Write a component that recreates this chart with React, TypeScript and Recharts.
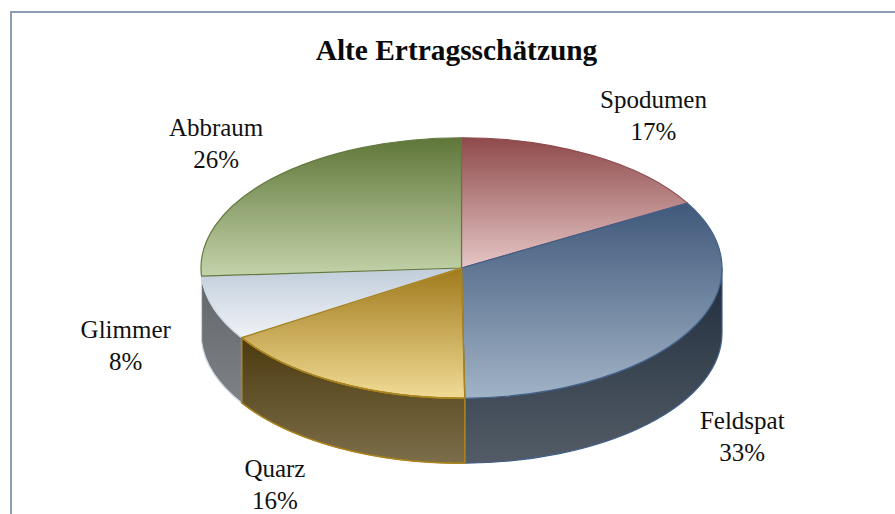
import React from "react";
import { PieChart, Pie } from "recharts";

const names = ["Spodumen", "Feldspat", "Quarz", "Glimmer", "Abbraum"];
const shares = [16.7, 33.1, 16.2, 8.0, 26.0];
const titleText = "Alte Ertragsschätzung";

const data = names.map((name, i) => ({ name, value: shares[i] }));

const faceColors: Record<string, [string, string, string]> = {
  Spodumen: ["#8f4a4b", "#e6c6c6", "#8f4a4b"],
  Feldspat: ["#40587a", "#a1b3c6", "#42608a"],
  Quarz: ["#a07a1c", "#f1db95", "#a8831f"],
  Glimmer: ["#c1cddb", "#f0f3f7", "#ccd6e2"],
  Abbraum: ["#5f7639", "#c4d3aa", "#64793e"],
};
const wallColors: Record<string, [string, string, string]> = {
  Feldspat: ["#202d3d", "#535c66", "#42608a"],
  Quarz: ["#4c3a0f", "#7c6e4a", "#a8831f"],
  Glimmer: ["#62666a", "#7e8185", "#ccd6e2"],
};
// Offset of each label's first baseline from the slice's mid-point on the rim.
const labelOffsets: [number, number][] = [
  [61.5, -47],
  [54.5, 96],
  [-62.5, 94],
  [-88, 30],
  [-55.5, -43],
];

const TILT = 0.5;
const DEPTH = 65;
const FONT = "'Liberation Serif', serif";

const rim = (cx: number, cy: number, r: number, a: number) => [
  cx + r * Math.cos((a * Math.PI) / 180),
  cy - r * TILT * Math.sin((a * Math.PI) / 180),
];

const arcPath = (cx: number, cy: number, r: number, a0: number, a1: number, sweep: number) => {
  const [x, y] = rim(cx, cy, r, a1);
  const large = Math.abs(a1 - a0) > 180 ? 1 : 0;
  return `A${r} ${r * TILT} 0 ${large} ${sweep} ${x} ${y}`;
};

const wallPath = (cx: number, cy: number, r: number, startAngle: number, endAngle: number) => {
  // Only the part of the rim in the front half (math angles 0 to -180) is visible.
  const a0 = Math.min(startAngle, 0);
  const a1 = Math.max(endAngle, -180);
  const [sx, sy] = rim(cx, cy, r, a0);
  const [ex, ey] = rim(cx, cy, r, a1);
  return (
    `M${sx} ${sy}${arcPath(cx, cy, r, a0, a1, 1)}` +
    `L${ex} ${ey + DEPTH}` +
    `A${r} ${r * TILT} 0 0 0 ${sx} ${sy + DEPTH}Z`
  );
};

const Grad = ({ id, c }: { id: string; c: string[] }) => (
  <defs>
    <linearGradient id={id} x1="0" y1="0" x2="0" y2="1">
      <stop offset="0%" stopColor={c[0]} />
      <stop offset="100%" stopColor={c[1]} />
    </linearGradient>
  </defs>
);

const FaceShape = (p: any) => {
  const { cx, cy, outerRadius: r, startAngle: a0, endAngle: a1, name } = p;
  const c = faceColors[name];
  const [sx, sy] = rim(cx, cy, r, a0);
  const d = `M${cx} ${cy}L${sx} ${sy}${arcPath(cx, cy, r, a0, a1, 1)}Z`;
  return (
    <g>
      <Grad id={`face-${name}`} c={c} />
      <path d={d} fill={`url(#face-${name})`} stroke={c[2]} strokeWidth={1.2} strokeLinejoin="round" />
    </g>
  );
};

const WallShape = (p: any) => {
  const { cx, cy, outerRadius: r, startAngle, endAngle, name } = p;
  const c = wallColors[name];
  if (!c) return <g />;
  return (
    <g>
      <Grad id={`wall-${name}`} c={c} />
      <path
        d={wallPath(cx, cy, r, startAngle, endAngle)}
        fill={`url(#wall-${name})`}
        stroke={c[2]}
        strokeWidth={1.2}
        strokeLinejoin="round"
      />
    </g>
  );
};

// Quarz's outline sits on top of both neighbours in the reference.
const OutlineShape = (p: any) => {
  const { cx, cy, outerRadius: r, startAngle: a0, endAngle: a1, name } = p;
  if (name !== "Quarz") return <g />;
  const [sx, sy] = rim(cx, cy, r, a0);
  const d = `M${cx} ${cy}L${sx} ${sy}${arcPath(cx, cy, r, a0, a1, 1)}Z`;
  const stroke = faceColors[name][2];
  return (
    <g fill="none" stroke={stroke} strokeWidth={1.4} strokeLinejoin="round">
      <path d={wallPath(cx, cy, r, a0, a1)} />
      <path d={d} />
    </g>
  );
};

const renderLabel = (p: any) => {
  const { cx, cy, outerRadius: r, midAngle, name, percent, index } = p;
  const [mx, my] = rim(cx, cy, r, midAngle);
  const [dx, dy] = labelOffsets[index];
  const x = mx + dx;
  const y = my + dy;
  return (
    <text x={x} y={y} textAnchor="middle" fontFamily={FONT} fontSize={25} fill="#111111">
      <tspan x={x}>{name}</tspan>
      <tspan x={x} dy={32}>{`${Math.round(percent * 100)}%`}</tspan>
    </text>
  );
};

const pieProps = {
  data,
  dataKey: "value",
  nameKey: "name",
  cx: 461.5,
  cy: 268,
  outerRadius: 260.5,
  startAngle: 90,
  endAngle: -270,
  paddingAngle: 0,
  stroke: "none",
  isAnimationActive: false,
};

export default function App() {
  return (
    <div
      style={{
        position: "absolute",
        left: 0,
        top: 0,
        width: 895,
        height: 514,
        overflow: "hidden",
        background: "#ffffff",
      }}
    >
      <div
        style={{
          position: "absolute",
          left: 10,
          top: 11,
          width: 1000,
          height: 700,
          border: "2px solid #8c9db2",
        }}
      />
      <div style={{ position: "absolute", left: 0, top: 0 }}>
        <PieChart width={895} height={514} margin={{ top: 0, right: 0, bottom: 0, left: 0 }}>
          <text
            x={456.5}
            y={60}
            textAnchor="middle"
            fontFamily={FONT}
            fontSize={29.4}
            fontWeight="bold"
            fill="#0a0a0a"
          >
            {titleText}
          </text>
          <Pie {...pieProps} shape={WallShape} label={false} labelLine={false} />
          <Pie {...pieProps} shape={FaceShape} label={false} labelLine={false} />
          <Pie {...pieProps} shape={OutlineShape} label={renderLabel} labelLine={false} />
        </PieChart>
      </div>
    </div>
  );
}
